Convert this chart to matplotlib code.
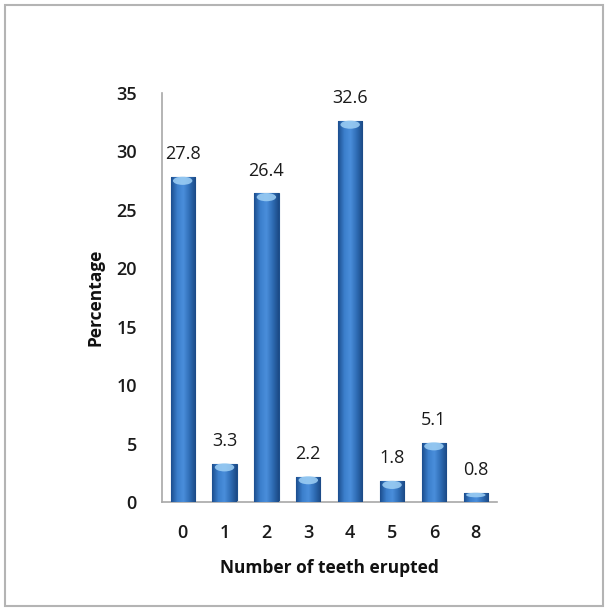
import numpy as np
import matplotlib.pyplot as plt
from matplotlib.patches import Rectangle, Ellipse
from matplotlib.colors import LinearSegmentedColormap

teeth = ['0', '1', '2', '3', '4', '5', '6', '8']
percent = [27.8, 3.3, 26.4, 2.2, 32.6, 1.8, 5.1, 0.8]

plt.rcParams['font.family'] = ['Open Sans', 'DejaVu Sans']

fig = plt.figure(figsize=(6.08, 6.11), dpi=100)
fig.patch.set_facecolor('white')

# grey frame round the whole chart
fig.add_artist(Rectangle((0.008, 0.008), 0.984, 0.984, transform=fig.transFigure,
                         fill=False, edgecolor='#b4b4b4', linewidth=1.5))

ax = fig.add_axes([0.266, 0.178, 0.551, 0.670])

x = np.arange(len(teeth))
bars = ax.bar(x, percent, width=0.58, color='#2f6db5', edgecolor='#1d4f8c', linewidth=0.8, zorder=2)

# cylinder shading across each bar
shade = LinearSegmentedColormap.from_list('shade', ['#1c4e8f', '#3b7fcc', '#4a8edb', '#2f6db5', '#1b4a86'])
grad = np.linspace(0, 1, 64).reshape(1, -1)
for b in bars:
    x0, w, h = b.get_x(), b.get_width(), b.get_height()
    im = ax.imshow(grad, cmap=shade, aspect='auto', extent=[x0, x0 + w, 0, h], zorder=3)
    im.set_clip_path(b)
    # soft light cap at the top
    cap = min(0.7, h * 0.5)
    ax.add_patch(Ellipse((x0 + w / 2, h - cap * 0.45), w * 0.8, cap,
                         color='#9fd0f5', alpha=0.85, zorder=4, linewidth=0))

for xi, v in zip(x, percent):
    ax.annotate(f'{v}', (xi, v), xytext=(0, 10), textcoords='offset points',
                ha='center', va='bottom', fontsize=13, color='#1a1a1a')

ax.set_xlim(-0.5, len(teeth) - 0.5)
ax.set_ylim(0, 35)
ax.set_yticks(range(0, 36, 5))
ax.set_xticks(x)
ax.set_xticklabels(teeth)
ax.tick_params(axis='both', length=0, labelsize=13, labelcolor='#1a1a1a')
ax.tick_params(axis='x', pad=16)
ax.tick_params(axis='y', pad=18)
for t in ax.get_xticklabels() + ax.get_yticklabels():
    t.set_fontweight('semibold')

for s in ['top', 'right']:
    ax.spines[s].set_visible(False)
for s in ['left', 'bottom']:
    ax.spines[s].set_color('#a8a8a8')
    ax.spines[s].set_linewidth(1.2)

ax.set_xlabel('Number of teeth erupted', fontsize=12.5, fontweight='bold', color='#111111', labelpad=12)
ax.set_ylabel('Percentage', fontsize=12.5, fontweight='bold', color='#111111', labelpad=8)

fig.savefig('out.png', dpi=100)
